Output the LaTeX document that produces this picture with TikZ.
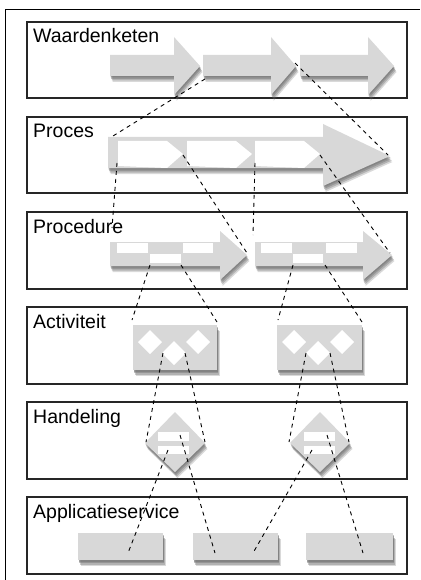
\documentclass[tikz,border=0pt]{standalone}
\usepackage{fontspec}
\setmainfont{Liberation Sans}
\definecolor{shapegray}{HTML}{D8D8D8}
\definecolor{shadowgray}{HTML}{6A6A6A}
\begin{document}
\begin{tikzpicture}[x=1pt,y=-1pt,
  panel/.style={draw=black!85, line width=1.2pt},
  frameline/.style={draw=black, line width=1pt},
  lbl/.style={anchor=base west, inner sep=0pt, font=\fontsize{19.5}{23}\selectfont},
  gshape/.style={fill=shapegray,
    preaction={fill=shadowgray, opacity=0.25, transform canvas={shift={(2.5pt,-6pt)}}},
    preaction={fill=shadowgray, opacity=0.35, transform canvas={shift={(1.8pt,-4.5pt)}}},
    preaction={fill=shadowgray, opacity=0.40, transform canvas={shift={(1pt,-3pt)}}},
    preaction={fill=shadowgray, opacity=0.40, transform canvas={shift={(0.5pt,-1.5pt)}}}},
  wshape/.style={fill=white},
  link/.style={draw=black, line width=0.9pt, dash pattern=on 4pt off 4pt}
]
\useasboundingbox (0,0) rectangle (420,580);
\fill[white] (0,0) rectangle (420,580);
% outer frame
\draw[frameline] (5,580) -- (5,10) -- (420,10);
% panels
\draw[panel] (27,22) rectangle (407,98);
\draw[panel] (27,117) rectangle (407,193);
\draw[panel] (27,212) rectangle (407,289);
\draw[panel] (27,307) rectangle (407,384);
\draw[panel] (27,402) rectangle (407,479);
\draw[panel] (27,497) rectangle (407,574);
% labels
\node[lbl] (lw) at (33,43) {Waardenketen};
\node[lbl] (lp) at (33,138) {Proces};
\node[lbl] (lpr) at (33,233) {Procedure};
\node[lbl] (la) at (33,328) {Activiteit};
\node[lbl] (lh) at (33,423) {Handeling};
\node[lbl] (ls) at (33,518) {Applicatieservice};
% Waardenketen arrows
\path[gshape] (110,55) -- (174,55) -- (174,37) -- (200,66) -- (174,95) -- (174,76) -- (110,76) -- cycle;
\path[gshape] (203,55) -- (271,55) -- (271,37) -- (296,66) -- (271,95) -- (271,76) -- (203,76) -- cycle;
\path[gshape] (300,55) -- (368,55) -- (368,37) -- (394,66) -- (368,95) -- (368,76) -- (300,76) -- cycle;
% Proces arrow
\path[gshape] (108,137) -- (323,137) -- (323,124) -- (390,156) -- (323,186) -- (323,168) -- (108,168) -- cycle;
\path[wshape] (118,141) -- (167,141) -- (183,154) -- (167,168) -- (118,166) -- cycle;
\path[wshape] (187,141) -- (236,141) -- (252,154) -- (236,168) -- (187,166) -- cycle;
\path[wshape] (255,141) -- (304,141) -- (320,154) -- (304,168) -- (255,166) -- cycle;
% Procedure arrows
\path[gshape] (110,242) -- (220,242) -- (220,231) -- (247,255) -- (220,280) -- (220,266) -- (110,266) -- cycle;
\path[gshape] (255,242) -- (363,242) -- (363,231) -- (392,255) -- (363,280) -- (363,266) -- (255,266) -- cycle;
\fill[white] (117,243) rectangle (148,253);
\fill[white] (150,254) rectangle (181,263);
\fill[white] (183,243) rectangle (213,253);
\fill[white] (261,243) rectangle (292,253);
\fill[white] (293,254) rectangle (323,263);
\fill[white] (326,243) rectangle (357,253);
% Activiteit
\path[gshape] (133,325) rectangle (217,370);
\path[gshape] (277,325) rectangle (362,370);
\foreach \cx/\cy in {150/342,174/353,198/342,294/342,318/353,342/342}{
  \path[wshape] (\cx,\cy-12) -- (\cx+12,\cy) -- (\cx,\cy+12) -- (\cx-12,\cy) -- cycle;
}
% Handeling
\path[gshape] (175,412) -- (205,443) -- (175,472) -- (145,443) -- cycle;
\path[gshape] (320,412) -- (350,443) -- (320,472) -- (290,443) -- cycle;
\fill[white] (158,432) rectangle (189,441);
\fill[white] (158,446) rectangle (189,454);
\fill[white] (304,432) rectangle (335,441);
\fill[white] (304,446) rectangle (335,454);
% Applicatieservice
\path[gshape] (78,533) rectangle (163,560);
\path[gshape] (193,533) rectangle (278,560);
\path[gshape] (306,533) rectangle (393,560);
% connector end points
\coordinate (w2bl) at (205,79);   \coordinate (pstart) at (113,136);
\coordinate (w2tip) at (295,63);  \coordinate (ptip) at (388,155);
\coordinate (pa1) at (117,163);   \coordinate (pr1s) at (112,228);
\coordinate (pa1tip) at (183,155);\coordinate (pr1tip) at (247,253);
\coordinate (pa3) at (255,163);   \coordinate (pr2s) at (253,235);
\coordinate (pa3tip) at (320,155);\coordinate (pr2tip) at (390,253);
\coordinate (pr1l) at (150,265);  \coordinate (a1tl) at (132,320);
\coordinate (pr1r) at (181,265);  \coordinate (a1tr) at (217,322);
\coordinate (pr2l) at (293,265);  \coordinate (a2tl) at (278,320);
\coordinate (pr2r) at (325,265);  \coordinate (a2tr) at (362,322);
\coordinate (a1dl) at (163,353);  \coordinate (h1l) at (146,442);
\coordinate (a1dr) at (185,353);  \coordinate (h1r) at (205,442);
\coordinate (a2dl) at (306,353);  \coordinate (h2l) at (289,442);
\coordinate (a2dr) at (330,353);  \coordinate (h2r) at (349,442);
\coordinate (h1a) at (180,435);   \coordinate (s2a) at (215,553);
\coordinate (h1b) at (168,450);   \coordinate (s1) at (128,553);
\coordinate (h2b) at (312,450);   \coordinate (s2b) at (253,553);
\coordinate (h2a) at (327,435);   \coordinate (s3) at (363,553);
% dashed links
\draw[link] (w2bl) -- (pstart);
\draw[link] (w2tip) -- (ptip);
\draw[link] (pa1) -- (pr1s);
\draw[link] (pa1tip) -- (pr1tip);
\draw[link] (pa3) -- (pr2s);
\draw[link] (pa3tip) -- (pr2tip);
\draw[link] (pr1l) -- (a1tl);
\draw[link] (pr1r) -- (a1tr);
\draw[link] (pr2l) -- (a2tl);
\draw[link] (pr2r) -- (a2tr);
\draw[link] (a1dl) -- (h1l);
\draw[link] (a1dr) -- (h1r);
\draw[link] (a2dl) -- (h2l);
\draw[link] (a2dr) -- (h2r);
\draw[link] (h1a) -- (s2a);
\draw[link] (h1b) -- (s1);
\draw[link] (h2b) -- (s2b);
\draw[link] (h2a) -- (s3);
\end{tikzpicture}
\end{document}
